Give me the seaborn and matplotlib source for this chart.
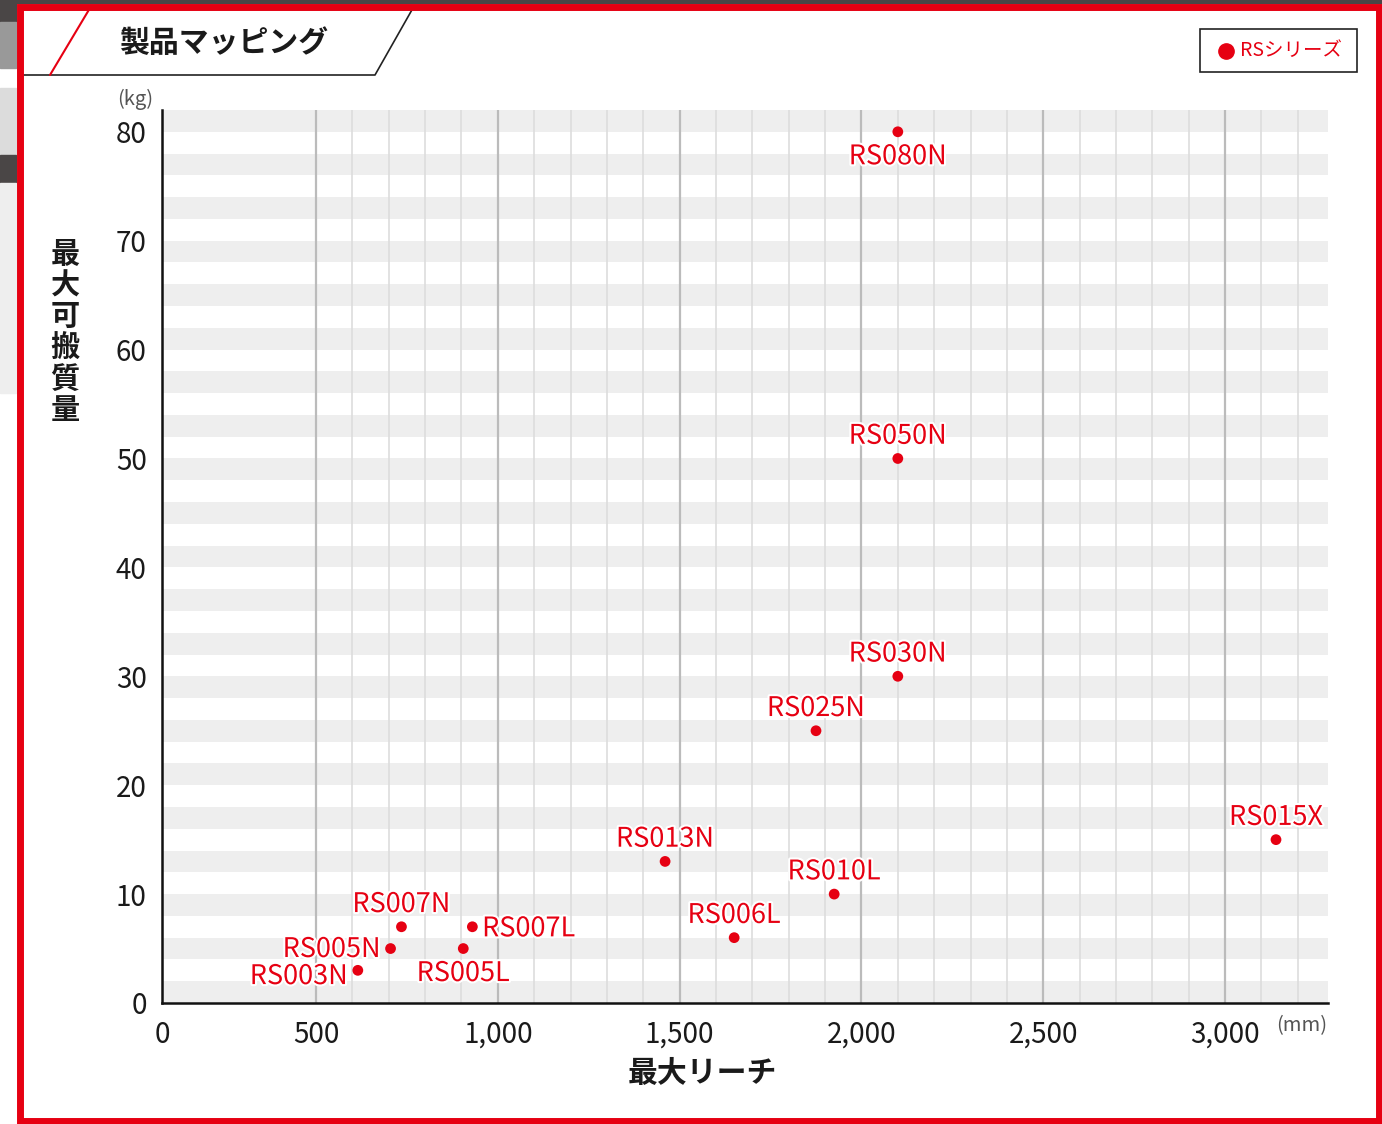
import numpy as np
import pandas as pd
import matplotlib
matplotlib.use("Agg")
import matplotlib.pyplot as plt
import matplotlib.patheffects as pe
from matplotlib.patches import Rectangle
from matplotlib.lines import Line2D
import seaborn as sns

# ---- data ----
names = ["RS003N", "RS005N", "RS005L", "RS007N", "RS007L", "RS006L", "RS013N",
         "RS010L", "RS025N", "RS030N", "RS050N", "RS080N", "RS015X"]
reach_mm = [615, 705, 905, 735, 930, 1650, 1460, 1925, 1875, 2100, 2100, 2100, 3140]
payload_kg = [3, 5, 5, 7, 7, 6, 13, 10, 25, 30, 50, 80, 15]
x_ticks = [0, 500, 1000, 1500, 2000, 2500, 3000]
y_ticks = [0, 10, 20, 30, 40, 50, 60, 70, 80]
series_name = "RSシリーズ"
title = "製品マッピング"
x_label = "最大リーチ"
y_label = "最大可搬質量"

df = pd.DataFrame({"name": names, "reach": reach_mm, "payload": payload_kg})

RED = "#e60012"
W, H = 1382, 1124

sns.set_theme(style="white")
plt.rcParams["font.family"] = ["Noto Sans CJK JP", "DejaVu Sans"]

fig = plt.figure(figsize=(W / 100, H / 100), dpi=100)
fig.patch.set_facecolor("white")

def fx(px):
    return px / W

def fy(py):
    return 1 - py / H

ax = fig.add_axes([fx(162), fy(1003), fx(1328) - fx(162), fy(110) - fy(1003)])

# x scale: first 500 mm compressed
K = 0.847
def fwd(x):
    x = np.asarray(x, dtype=float)
    return np.where(x < 500, x * K, x - 500 * (1 - K))
def inv(y):
    y = np.asarray(y, dtype=float)
    return np.where(y < 500 * K, y / K, y + 500 * (1 - K))
ax.set_xscale("function", functions=(fwd, inv))

ax.set_xlim(0, 3283)
ax.set_ylim(0, 82)

# stripes
for k in range(0, 82, 4):
    ax.axhspan(k, k + 2, color="#eeeeee", zorder=0, lw=0)

# grid
ax.set_xticks(x_ticks)
ax.set_xticklabels([f"{v:,}" for v in x_ticks])
minor = [v for v in range(600, 3283, 100) if v % 500 != 0]
ax.set_xticks(minor, minor=True)
ax.grid(True, axis="x", which="major", color="#bbbbbb", lw=1.6, zorder=0.5)
ax.grid(True, axis="x", which="minor", color="#dddddd", lw=1.2, zorder=0.5)
ax.set_axisbelow(True)
ax.set_yticks(y_ticks)
ax.tick_params(axis="both", which="major", length=7, width=1.8, color="#111111",
               labelsize=20, labelcolor="#1a1a1a", direction="out", pad=4)
ax.tick_params(axis="x", which="minor", length=0)
ax.tick_params(axis="x", pad=5)
for s in ["top", "right"]:
    ax.spines[s].set_visible(False)
for s in ["left", "bottom"]:
    ax.spines[s].set_color("#111111")
    ax.spines[s].set_linewidth(1.8)

sns.scatterplot(data=df, x="reach", y="payload", ax=ax, color=RED, s=60,
                edgecolor="none", zorder=5, legend=False)
ax.set_xlabel("")
ax.set_ylabel("")

placement = {"RS003N": "left", "RS005N": "left", "RS005L": "below", "RS007L": "right",
             "RS080N": "below"}
nudge = {"RS003N": -3.0, "RS005N": 0.8}
stroke = [pe.withStroke(linewidth=3, foreground="white")]
for n, xv, yv in zip(names, reach_mm, payload_kg):
    side = placement.get(n, "above")
    if side == "above":
        off, ha = (0, 16), "center"
    elif side == "below":
        off, ha = (0, -18), "center"
    elif side == "left":
        off, ha = (-7, -1.5 + nudge.get(n, 0)), "right"
    else:
        off, ha = (7, -1.5), "left"
    ax.annotate(n, (xv, yv), xytext=off, textcoords="offset points", ha=ha, va="center",
                fontsize=19.5, color=RED, zorder=6, path_effects=stroke)

# units
fig.text(fx(135), fy(99), "(kg)", fontsize=14.5, color="#555555", ha="center", va="center")
fig.text(fx(1302), fy(1026), "(mm)", fontsize=14.5, color="#555555", ha="center", va="center")

# axis titles
fig.text(fx(702), fy(1073), x_label, fontsize=21.5, fontweight="bold", color="#1a1a1a",
         ha="center", va="center")
fig.text(fx(65), fy(332), "\n".join(y_label), fontsize=21, fontweight="bold",
         color="#1a1a1a", ha="center", va="center", linespacing=1.05)

# page decorations on the left edge
blocks = [(0, 22, "#4a4646"), (22, 68, "#999999"), (88, 155, "#dcdcdc"),
          (155, 183, "#4a4646"), (183, 393, "#eeeeee")]
for y0, y1, c in blocks:
    fig.patches.append(Rectangle((fx(0), fy(y1)), fx(16), fy(y0) - fy(y1),
                                 transform=fig.transFigure, color=c, zorder=0))
fig.patches.append(Rectangle((fx(0), fy(3)), 1, fy(0) - fy(3),
                             transform=fig.transFigure, color="#4a4646", zorder=0))
# red frame
fig.patches.append(Rectangle((fx(19.5), fy(1120.5)), fx(1378.5) - fx(19.5), fy(6.5) - fy(1120.5),
                             transform=fig.transFigure, fill=False, edgecolor=RED,
                             lw=5, zorder=10))

# title tab
fig.lines.append(Line2D([fx(22), fx(375), fx(413)], [fy(75), fy(75), fy(8)],
                        transform=fig.transFigure, color="#222222", lw=1.2))
fig.lines.append(Line2D([fx(50), fx(90)], [fy(75), fy(8)],
                        transform=fig.transFigure, color=RED, lw=1.5))
fig.text(fx(224), fy(43), title, fontsize=21.5, fontweight="bold", color="#1a1a1a",
         ha="center", va="center")

# legend box
fig.patches.append(Rectangle((fx(1200), fy(72)), fx(1357) - fx(1200), fy(29) - fy(72),
                             transform=fig.transFigure, fill=False, edgecolor="#222222",
                             lw=1.2, zorder=10))
fig.lines.append(Line2D([fx(1226)], [fy(51)], transform=fig.transFigure, marker="o",
                        color=RED, markersize=11, linestyle="none"))
fig.text(fx(1240), fy(50), series_name, fontsize=14, color=RED, ha="left", va="center")

fig.savefig("out.png", dpi=100)
